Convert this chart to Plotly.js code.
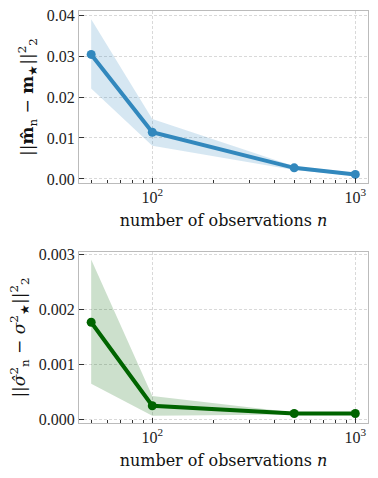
<!DOCTYPE html>
<html>
<head>
<meta charset="utf-8">
<script src="https://cdn.plot.ly/plotly-3.0.1.min.js"></script>
<style>
  html, body { margin: 0; padding: 0; background: #fff; }
  #chart { width: 378px; height: 478px; }
</style>
</head>
<body>
<div id="chart"></div>
<script>
const nObs = [50, 100, 500, 1000];

const meanErr = [0.0304, 0.0114, 0.0027, 0.0011];
const meanUpper = [0.0390, 0.0146, 0.0031, 0.0013];
const meanLower = [0.0221, 0.0081, 0.0022, 0.0008];

const varErr = [0.00176, 0.00024, 0.00010, 0.00010];
const varUpper = [0.00290, 0.00042, 0.00012, 0.00011];
const varLower = [0.00064, 0.00006, 0.00008, 0.00009];

const xTickVals = [100, 1000];
const xTickText = ['10<sup>2</sup>', '10<sup>3</sup>'];
const xMinorVals = [50, 60, 70, 80, 90, 200, 300, 400, 500, 600, 700, 800, 900];
const yTopTicks = [0, 0.01, 0.02, 0.03, 0.04];
const yBotTicks = [0, 0.001, 0.002, 0.003];

const blue = 'rgb(50,136,189)';
const green = 'rgb(0,100,0)';
const font = "'DejaVu Serif', serif";
const tickFont = "'Liberation Serif', serif";

function band(upper, lower, fillColor, xa, ya) {
    return [
        { x: nObs, y: upper, xaxis: xa, yaxis: ya, mode: 'lines', line: { width: 0 }, hoverinfo: 'skip', showlegend: false },
        { x: nObs, y: lower, xaxis: xa, yaxis: ya, mode: 'lines', line: { width: 0 }, fill: 'tonexty', fillcolor: fillColor, hoverinfo: 'skip', showlegend: false }
    ];
}

const traces = [
    ...band(meanUpper, meanLower, 'rgba(50,136,189,0.2)', 'x', 'y'),
    { x: nObs, y: meanErr, xaxis: 'x', yaxis: 'y', mode: 'lines+markers', line: { color: blue, width: 4 }, marker: { color: blue, size: 9 }, showlegend: false },
    ...band(varUpper, varLower, 'rgba(0,100,0,0.2)', 'x2', 'y2'),
    { x: nObs, y: varErr, xaxis: 'x2', yaxis: 'y2', mode: 'lines+markers', line: { color: green, width: 4 }, marker: { color: green, size: 9 }, showlegend: false }
];

function xAxis(anchor) {
    return {
        type: 'log', range: [1.639, 3.0625], anchor: anchor,
        tickmode: 'array', tickvals: xTickVals, ticktext: xTickText,
        ticks: 'inside', ticklen: 5, tickcolor: '#333',
        minor: { tickmode: 'array', tickvals: xMinorVals, ticks: 'inside', ticklen: 3, tickcolor: '#333', showgrid: false },
        showgrid: true, gridcolor: '#d0d0d0', griddash: '3px,2px', gridwidth: 0.8,
        showline: true, mirror: true, linecolor: '#bbbbbb', linewidth: 1,
        zeroline: false,
        tickfont: { family: tickFont, size: 16, color: '#222' },
        title: { text: 'number of observations <i>n</i>', font: { size: 16, color: '#111' }, standoff: 9 }
    };
}

function yAxis(anchor, domain, range, ticks, fmt, titleText) {
    return {
        domain: domain, range: range, anchor: anchor,
        tickmode: 'array', tickvals: ticks, tickformat: fmt,
        ticks: 'inside', ticklen: 5, tickcolor: '#333',
        showgrid: true, gridcolor: '#d0d0d0', griddash: '3px,2px', gridwidth: 0.8,
        showline: true, mirror: true, linecolor: '#bbbbbb', linewidth: 1,
        zeroline: false,
        tickfont: { family: tickFont, size: 16, color: '#222' },
        title: { text: titleText, font: { size: 17, color: '#111' }, standoff: 8 }
    };
}

const layout = {
    width: 378, height: 478,
    margin: { l: 79, r: 10, t: 11, b: 55 },
    paper_bgcolor: '#fff', plot_bgcolor: '#fff',
    font: { family: font, color: '#222' },
    showlegend: false,
    xaxis: xAxis('y'),
    yaxis: yAxis('x', [0.5825, 1], [-0.001, 0.041], yTopTicks, '.2f',
        '||<b>m&#770;</b><sub>n</sub> − <b>m</b><sub>★</sub>||<sup>2</sup><sub>2</sub>'),
    xaxis2: xAxis('y2'),
    yaxis2: yAxis('x2', [0, 0.415], [-0.0000727, 0.003036], yBotTicks, '.3f',
        '||<i>σ&#770;</i><sup>2</sup><sub>n</sub> − <i>σ</i><sup>2</sup><sub>★</sub>||<sup>2</sup><sub>2</sub>')
};

Plotly.newPlot('chart', traces, layout, { displayModeBar: false, staticPlot: true });
</script>
</body>
</html>
